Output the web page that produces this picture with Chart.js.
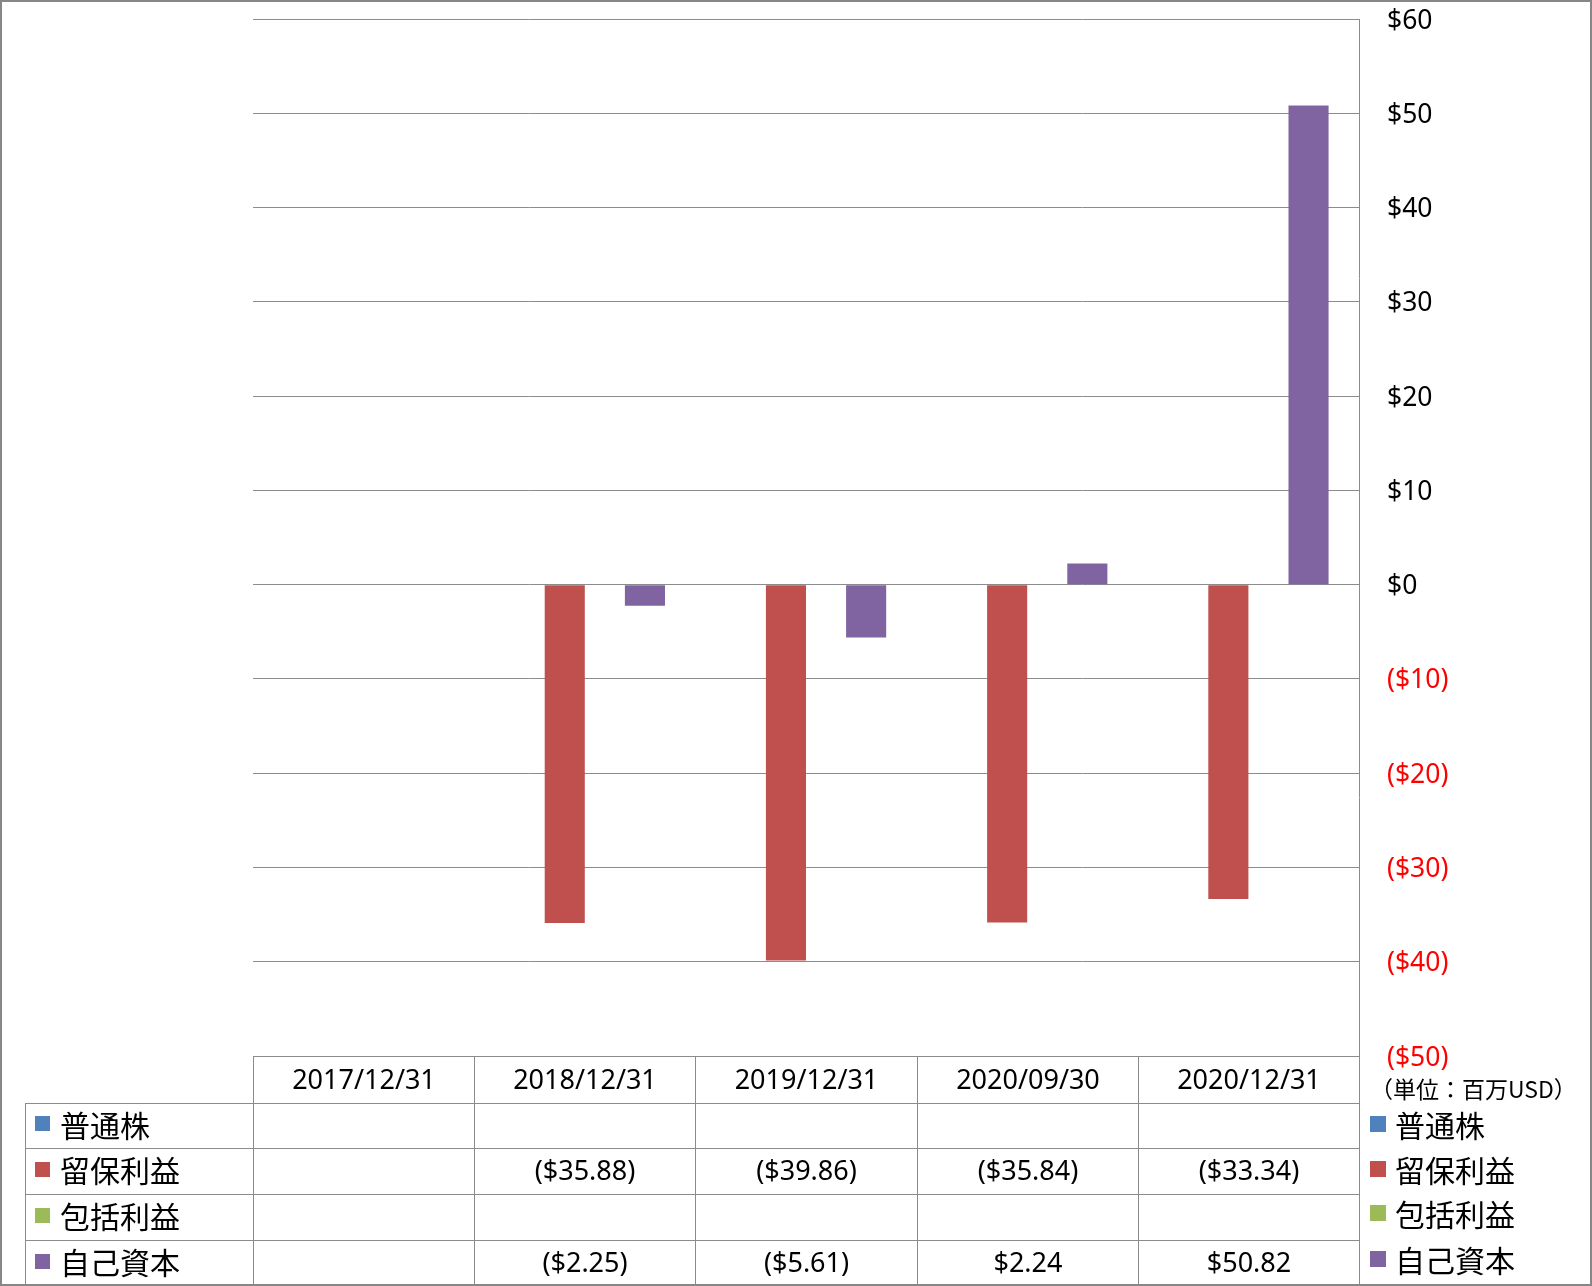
<!DOCTYPE html>
<html><head><meta charset="utf-8">
<script src="https://cdn.jsdelivr.net/npm/chart.js@4.4.0/dist/chart.umd.min.js"></script>
<style>
html,body{margin:0;padding:0;background:#fff;}
#wrap{position:relative;width:1592px;height:1286px;overflow:hidden;background:#fff;}
#frame{position:absolute;left:0;top:0;width:1592px;height:1286px;box-sizing:border-box;border:2px solid #878787;pointer-events:none;z-index:5;}
#c{position:absolute;left:0;top:0;}
.cell{position:absolute;box-sizing:border-box;border:1px solid #8c8c8c;display:flex;align-items:center;justify-content:center;font-family:"Noto Sans",sans-serif;font-size:27px;color:#000;white-space:nowrap;padding-bottom:4px;}
.lab{justify-content:flex-start;font-family:"Noto Sans CJK JP",sans-serif;font-size:30px;padding-bottom:5px;}
.sw{display:inline-block;width:15px;height:15px;margin-left:9px;margin-right:10px;}
.leg{position:absolute;display:flex;align-items:center;font-family:"Noto Sans CJK JP",sans-serif;font-size:30px;color:#000;white-space:nowrap;height:40px;}
.leg .sw{margin-left:0;margin-right:9px;width:16px;height:16px;}
#unit{position:absolute;left:1370px;top:1074px;font-family:"Noto Sans CJK JP",sans-serif;font-size:23px;color:#000;white-space:nowrap;line-height:28px;}
</style></head>
<body>
<div id="wrap">
<canvas id="c" width="1592" height="1286"></canvas>
<div id="unit">（単位：百万USD）</div>
<div id="frame"></div>
</div>
<script>
const categories = ["2017/12/31","2018/12/31","2019/12/31","2020/09/30","2020/12/31"];
const seriesNames = ["普通株","留保利益","包括利益","自己資本"];
const commonStock = [null,null,null,null,null];
const retainedEarnings = [null,-35.88,-39.86,-35.84,-33.34];
const comprehensiveIncome = [null,null,null,null,null];
const equity = [null,-2.25,-5.61,2.24,50.82];
const seriesColors = ["#4F81BD","#C0504D","#9BBB59","#8064A2"];
const yTicksMin = -50, yTicksMax = 60, yStep = 10;

const seriesData = [commonStock, retainedEarnings, comprehensiveIncome, equity];
function fmt(v){
  if (v === null || v === undefined) return "";
  const a = Math.abs(v);
  const s = "$" + (Number.isInteger(v) ? a.toString() : a.toFixed(2));
  return v < 0 ? "(" + s + ")" : s;
}

const chart = new Chart(document.getElementById('c'), {
  type: 'bar',
  data: {
    labels: categories,
    datasets: seriesNames.map((n,i)=>({
      label: n, data: seriesData[i], backgroundColor: seriesColors[i],
      borderWidth: 0, categoryPercentage: 0.725, barPercentage: 1.0
    }))
  },
  options: {
    responsive: false, maintainAspectRatio: false, animation: false,
    layout: { autoPadding: false, padding: { left: 253, top: 19, right: 0, bottom: 230 } },
    plugins: { legend: { display: false }, tooltip: { enabled: false } },
    scales: {
      x: { display: false, offset: true, grid: { display: false } },
      y: {
        position: 'right', min: yTicksMin, max: yTicksMax,
        afterFit(s){ s.width = 233; s.paddingTop = 0; s.paddingBottom = 0; },
        ticks: {
          stepSize: yStep, padding: 28, labelOffset: 2,
          font: { family: "Noto Sans", size: 26.5 },
          color: (ctx) => (ctx.tick && ctx.tick.value < 0) ? '#FF0000' : '#000000',
          callback: (v) => v < 0 ? "($" + Math.abs(v) + ")" : "$" + v
        },
        grid: { color: '#8c8c8c', lineWidth: 1, drawTicks: false },
        border: { display: true, color: '#8c8c8c', width: 1 }
      }
    }
  }
});

// data table and legends, aligned with the chart's own x scale
const wrap = document.getElementById('wrap');
const ca = chart.chartArea;
const n = categories.length;
const colX = [25];
for (let i=0;i<=n;i++) colX.push(Math.round(ca.left + i*(ca.right-ca.left)/n));
const rowY = [Math.round(ca.bottom), 1103, 1148, 1194, 1240, 1286];
function cell(x0,x1,y0,y1,html,cls){
  const d = document.createElement('div');
  d.className = 'cell' + (cls ? ' ' + cls : '');
  d.style.left = x0 + 'px'; d.style.top = y0 + 'px';
  d.style.width = (x1 - x0 + 1) + 'px'; d.style.height = (y1 - y0 + 1) + 'px';
  d.innerHTML = html;
  wrap.insertBefore(d, document.getElementById('frame'));
}
for (let i=0;i<n;i++) cell(colX[i+1], colX[i+2], rowY[0], rowY[1], categories[i]);
for (let r=0;r<seriesNames.length;r++){
  cell(colX[0], colX[1], rowY[r+1], rowY[r+2],
    '<span class="sw" style="background:'+seriesColors[r]+'"></span>' + seriesNames[r], 'lab');
  for (let i=0;i<n;i++) cell(colX[i+1], colX[i+2], rowY[r+1], rowY[r+2], fmt(seriesData[r][i]));
}
const legY = [1124, 1169, 1213, 1259];
for (let r=0;r<seriesNames.length;r++){
  const d = document.createElement('div');
  d.className = 'leg';
  d.style.left = '1370px'; d.style.top = (legY[r]-20) + 'px';
  d.innerHTML = '<span class="sw" style="background:'+seriesColors[r]+'"></span>' + seriesNames[r];
  wrap.insertBefore(d, document.getElementById('frame'));
}
</script>
</body></html>
